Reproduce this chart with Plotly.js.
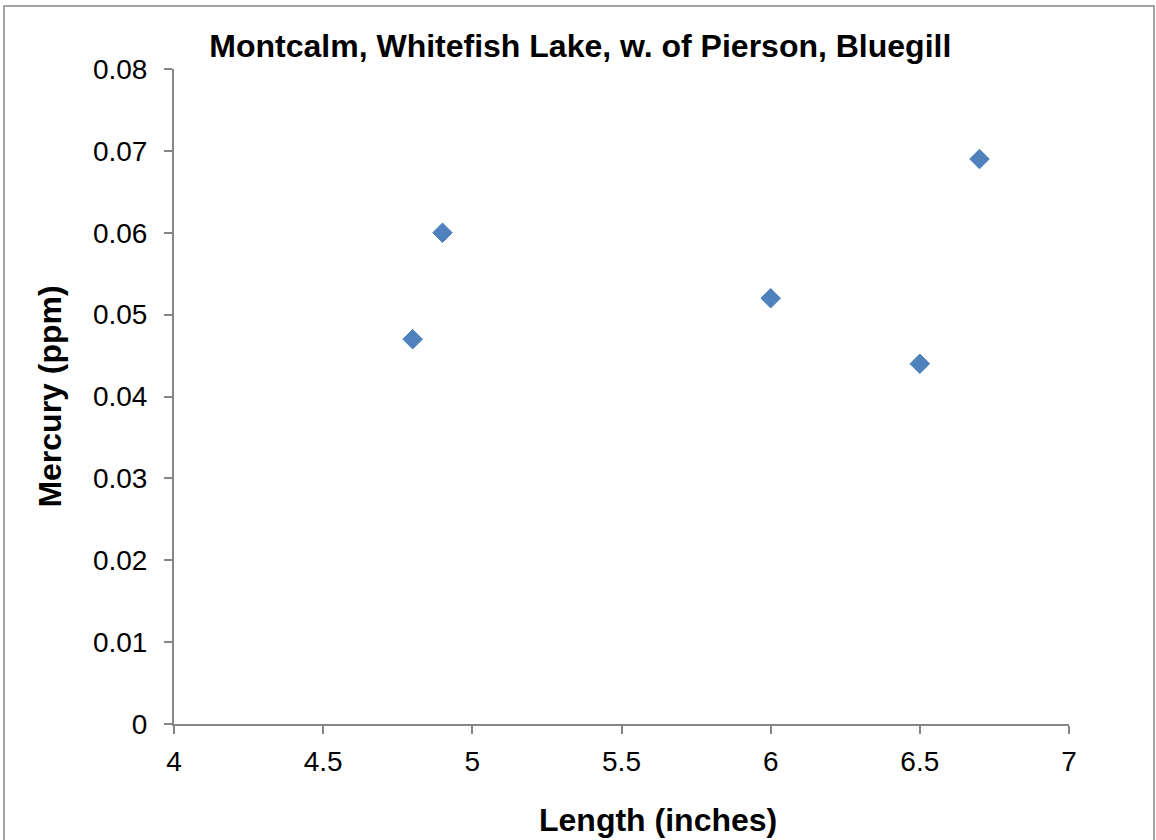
<!DOCTYPE html>
<html>
<head>
<meta charset="utf-8">
<script src="https://cdn.plot.ly/plotly-3.0.1.min.js"></script>
<style>html,body{margin:0;padding:0;background:#fff;}#chart{width:1156px;height:840px;}</style>
</head>
<body>
<div id="chart"></div>
<script>
const lengthInches = [4.8, 4.9, 6.0, 6.5, 6.7];
const mercuryPpm = [0.047, 0.060, 0.052, 0.044, 0.069];
const xTicks = [4, 4.5, 5, 5.5, 6, 6.5, 7];
const yTicks = [0, 0.01, 0.02, 0.03, 0.04, 0.05, 0.06, 0.07, 0.08];

const FONT = 'Liberation Sans, Arial, sans-serif';
const AXIS = '#868686';

const trace = {
  x: lengthInches, y: mercuryPpm, type: 'scatter', mode: 'markers',
  marker: {symbol: 'diamond', size: 15, color: '#4F81BD', line: {color: '#4A7EBB', width: 1}},
  hoverinfo: 'x+y'
};

const layout = {
  width: 1156, height: 840,
  margin: {l: 174, r: 87, t: 69, b: 116},
  paper_bgcolor: '#fff', plot_bgcolor: '#fff',
  showlegend: false,
  font: {family: FONT, color: '#000', size: 28},
  title: {text: 'Montcalm, Whitefish Lake, w. of Pierson, Bluegill',
    font: {family: FONT, size: 32, weight: 'bold', color: '#000'},
    xref: 'container', yref: 'container', x: 0.502, y: 0.946, xanchor: 'center', yanchor: 'middle'},
  xaxis: {range: [4, 7], tickvals: xTicks, ticktext: xTicks.map(String),
    showgrid: false, zeroline: false, showline: true, linecolor: AXIS, linewidth: 2,
    ticks: 'outside', ticklen: 8, tickwidth: 2, tickcolor: AXIS, ticklabelstandoff: 3,
    tickfont: {family: FONT, size: 28, color: '#000'}},
  yaxis: {range: [0, 0.08], tickvals: yTicks, ticktext: yTicks.map(v => v === 0 ? '0' : v.toFixed(2)),
    showgrid: false, zeroline: false, showline: true, linecolor: AXIS, linewidth: 2,
    ticks: 'outside', ticklen: 8, tickwidth: 2, tickcolor: AXIS, ticklabelstandoff: 11,
    tickfont: {family: FONT, size: 28, color: '#000'},
    title: {text: 'Mercury (ppm)', font: {family: FONT, size: 32, weight: 'bold', color: '#000'}, standoff: 22}},
  annotations: [{text: 'Length (inches)', xref: 'paper', yref: 'paper',
    x: (658 - 174) / 895, y: (724 - 820) / 655, xanchor: 'center', yanchor: 'middle', showarrow: false,
    font: {family: FONT, size: 32, weight: 'bold', color: '#000'}}],
  shapes: [{type: 'rect', xref: 'paper', yref: 'paper',
    x0: (4 - 174) / 895, x1: (1154 - 174) / 895, y0: (724 - 850) / 655, y1: (724 - 6) / 655,
    line: {color: '#868686', width: 1.5}, fillcolor: 'rgba(0,0,0,0)', layer: 'below'}]
};

Plotly.newPlot('chart', [trace], layout, {displayModeBar: false, staticPlot: true});
</script>
</body>
</html>
